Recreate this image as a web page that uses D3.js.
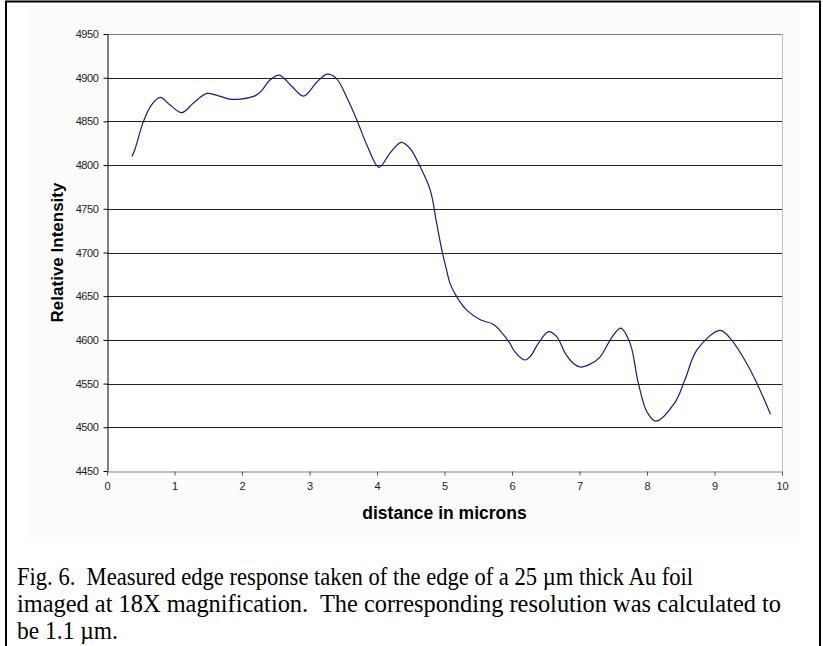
<!DOCTYPE html>
<meta charset="utf-8">

<script src="https://d3js.org/d3.v7.min.js"></script>

<style type="text/css">
  body { margin: 0; background: #fff; }
  text { font-family: Arial, "Liberation Sans", sans-serif; }
  text.caption { font-family: "Liberation Serif", serif; white-space: pre; }
</style>

<body>
</body>

<script>

// distance in microns / relative intensity
var distance = [0.37,0.41,0.54,0.66,0.79,0.93,1.11,1.28,1.48,1.62,1.82,1.97,2.20,2.29,2.41,2.55,
                2.74,2.91,3.11,3.26,3.40,3.55,3.70,3.85,4.03,4.19,4.36,4.49,4.64,4.79,4.88,4.96,
                5.03,5.08,5.18,5.33,5.53,5.72,5.82,5.97,6.04,6.19,6.27,6.39,6.54,6.66,6.79,6.91,
                7.01,7.15,7.30,7.48,7.61,7.75,7.87,8.00,8.13,8.41,8.56,8.74,9.08,9.23,9.53,9.83];
var intensity = [4810,4817,4850,4869,4877.5,4869,4860,4871,4882,4880,4875.5,4875.5,4879.5,4885,4897,4903,
                 4890,4879,4895,4904,4899,4878,4852,4823,4797.5,4813.5,4826,4819,4798,4771,4735,4703,
                 4680,4665,4649.5,4634,4623,4618,4611,4596,4586.5,4577,4581,4596,4609.5,4604,4584.5,4573,
                 4569,4572,4580,4603,4613.5,4596,4551,4517.5,4507,4528,4554,4588.5,4611,4602,4565.5,4515];

var xTicks = [0,1,2,3,4,5,6,7,8,9,10];
var yTicks = [4450,4500,4550,4600,4650,4700,4750,4800,4850,4900,4950];

var caption = [
  "Fig. 6.  Measured edge response taken of the edge of a 25 \u00b5m thick Au foil",
  "imaged at 18X magnification.  The corresponding resolution was calculated to",
  "be 1.1 \u00b5m."
];

var W = 823, H = 646;
var margin = {top: 34, right: 41, bottom: 175, left: 107};
var width = W - margin.left - margin.right,
    height = H - margin.top - margin.bottom;

var svg = d3.select("body").append("svg")
    .attr("width", W)
    .attr("height", H);

// outer frame
svg.append("rect")
    .attr("x", 6).attr("y", 1.5)
    .attr("width", 814).attr("height", 650)
    .attr("fill", "#fff")
    .attr("stroke", "#000")
    .attr("stroke-width", 2);

// chart area
svg.append("rect")
    .attr("x", 27).attr("y", 9)
    .attr("width", 773).attr("height", 533)
    .attr("fill", "#fcfcfc");

var g = svg.append("g")
    .attr("transform", "translate(" + margin.left + "," + margin.top + ")");

var x = d3.scaleLinear().domain([0, 10]).range([0, width]);
var y = d3.scaleLinear().domain([4450, 4950]).range([height, 0]);

g.append("rect")
    .attr("width", width).attr("height", height)
    .attr("fill", "#fff");

// gridlines
g.selectAll(".grid")
    .data(yTicks.filter(function(d) { return d > 4450; }))
  .enter().append("line")
    .attr("class", "grid")
    .attr("x1", 0).attr("x2", width)
    .attr("y1", function(d) { return Math.round(y(d)) + 0.5; })
    .attr("y2", function(d) { return Math.round(y(d)) + 0.5; })
    .attr("stroke", function(d) { return d == 4950 ? "#808080" : "#222"; })
    .attr("stroke-width", 1);

// right border
g.append("line")
    .attr("x1", width + 0.5).attr("x2", width + 0.5)
    .attr("y1", 0).attr("y2", height)
    .attr("stroke", "#c0c0c0");

var xAxis = g.append("g")
    .attr("transform", "translate(0," + (Math.round(height) + 0.5) + ")")
    .call(d3.axisBottom(x).tickValues(xTicks).tickSize(4).tickSizeOuter(0).tickFormat(d3.format("d")));
xAxis.select(".domain").attr("stroke", "#808080");
xAxis.selectAll(".tick line").attr("stroke", "#555");
xAxis.selectAll("text").attr("font-size", "11px").attr("fill", "#222").attr("y", 9).attr("dy", "0.85em")
    .attr("font-family", "Arial, 'Liberation Sans', sans-serif");

var yAxis = g.append("g")
    .attr("transform", "translate(0.5,0)")
    .call(d3.axisLeft(y).tickValues(yTicks).tickSize(4).tickSizeOuter(0).tickFormat(d3.format("d")));
yAxis.select(".domain").attr("stroke", "#000");
yAxis.selectAll(".tick line").attr("stroke", "#000");
yAxis.selectAll("text").attr("font-size", "11px").attr("fill", "#222").attr("x", -9)
    .attr("font-family", "Arial, 'Liberation Sans', sans-serif").style("letter-spacing", "-0.4px");

// curve
var pts = distance.map(function(d, i) { return [d, intensity[i]]; });
var line = d3.line()
    .x(function(d) { return x(d[0]); })
    .y(function(d) { return y(d[1]); })
    .curve(d3.curveCatmullRom.alpha(0.5));

g.append("path")
    .datum(pts)
    .attr("fill", "none")
    .attr("stroke", "#1a1a8c")
    .attr("stroke-width", 1.2)
    .attr("d", line);

// axis titles
svg.append("text")
    .attr("transform", "translate(63," + (margin.top + height / 2) + ") rotate(-90)")
    .attr("text-anchor", "middle")
    .attr("font-size", "17px")
    .attr("font-weight", "bold")
    .text("Relative Intensity");

svg.append("text")
    .attr("x", margin.left + width / 2)
    .attr("y", 519)
    .attr("text-anchor", "middle")
    .attr("font-size", "17.5px")
    .attr("font-weight", "bold")
    .text("distance in microns");

// caption: squeeze lines to the widths of the original, same ratio for the short last line
var cap = svg.selectAll(".caption")
    .data(caption)
  .enter().append("text")
    .attr("class", "caption")
    .attr("x", 17)
    .attr("y", function(d, i) { return 585 + i * 27; })
    .attr("font-size", "25px")
    .text(function(d) { return d; });

var natural = cap.nodes().map(function(n) { return n.getComputedTextLength(); });
var ratio = (676 / natural[0] + 764 / natural[1]) / 2;
cap.attr("textLength", function(d, i) {
      return i == 0 ? 676 : i == 1 ? 764 : natural[i] * ratio;
    })
    .attr("lengthAdjust", "spacingAndGlyphs");

</script>
